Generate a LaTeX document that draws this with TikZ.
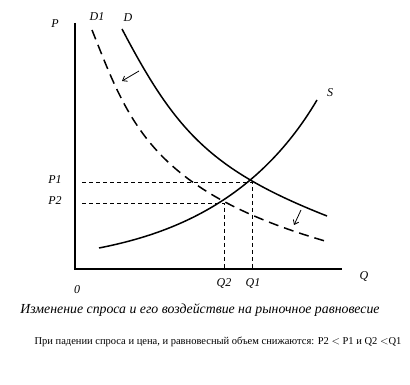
\documentclass[tikz,border=0pt]{standalone}
\usepackage{fontspec}
\setmainfont{Liberation Serif}
\usetikzlibrary{arrows.meta}
\begin{document}
\begin{tikzpicture}[x=1pt,y=-1pt,
  axis/.style={line width=2pt},
  curve/.style={line width=1.5pt},
  shifted/.style={line width=1.5pt,dash pattern=on 10pt off 6pt},
  guide/.style={line width=0.9pt,dash pattern=on 4pt off 3pt},
  lbl/.style={font=\itshape\fontsize{12}{14}\selectfont,inner sep=0pt},
  shiftarrow/.style={line width=0.8pt,-{Straight Barb[length=4pt,width=6pt]}}]
\useasboundingbox (0,0) rectangle (410,385);
\fill[white] (0,0) rectangle (410,385);
% axes
\coordinate (O) at (75,269);
\coordinate (Ytop) at (75,23);
\coordinate (Xend) at (342,269);
\draw[axis] (Ytop) -- (O) -- (Xend);
% equilibria
\coordinate (E1) at (252,182);
\coordinate (E2) at (224,203);
\coordinate (Q1a) at (252,269);
\coordinate (Q2a) at (224,269);
\coordinate (P1a) at (82,182);
\coordinate (P2a) at (82,203);
\draw[guide] (P1a) -- (E1) -- (Q1a);
\draw[guide] (P2a) -- (E2) -- (Q2a);
% curves
\coordinate (Dtop) at (122,29);
\coordinate (Dend) at (327,216);
\coordinate (D1top) at (92,30);
\coordinate (D1end) at (325,241);
\coordinate (Sbot) at (99,248);
\coordinate (Stop) at (317,100);
\draw[curve] (Dtop) .. controls (175,130) and (210,170) .. (Dend);
\draw[shifted] (D1top) .. controls (128,120) and (150,190) .. (D1end);
\draw[curve] (Sbot) .. controls (165,235) and (255,205) .. (Stop);
% shift arrows
\coordinate (A1s) at (139,71);
\coordinate (A1e) at (122,81);
\draw[shiftarrow] (A1s) -- (A1e);
\coordinate (A2s) at (301,210);
\coordinate (A2e) at (294,225);
\draw[shiftarrow] (A2s) .. controls (298,217) .. (A2e);
% labels
\node[lbl] (P) at (55,24) {P};
\node[lbl] (D1) at (97,17) {D1};
\node[lbl] (D) at (128,18) {D};
\node[lbl] (S) at (330,93) {S};
\node[lbl] (P1) at (55,180) {P1};
\node[lbl] (P2) at (55,201) {P2};
\node[lbl] (zero) at (77,290) {0};
\node[lbl] (Q2) at (224,283) {Q2};
\node[lbl] (Q1) at (253,284) {Q1};
\node[lbl] (Q) at (364,276) {Q};
\node[lbl,font=\itshape\fontsize{13.8}{16}\selectfont] (cap) at (200,310) {Изменение спроса и его воздействие на рыночное равновесие};
\node[inner sep=0pt,font=\fontsize{10.5}{12}\selectfont] (note) at (218,342) {При падении спроса и цена, и равновесный объем снижаются: P2 $<$ P1 и Q2 $<$Q1};
\end{tikzpicture}
\end{document}
